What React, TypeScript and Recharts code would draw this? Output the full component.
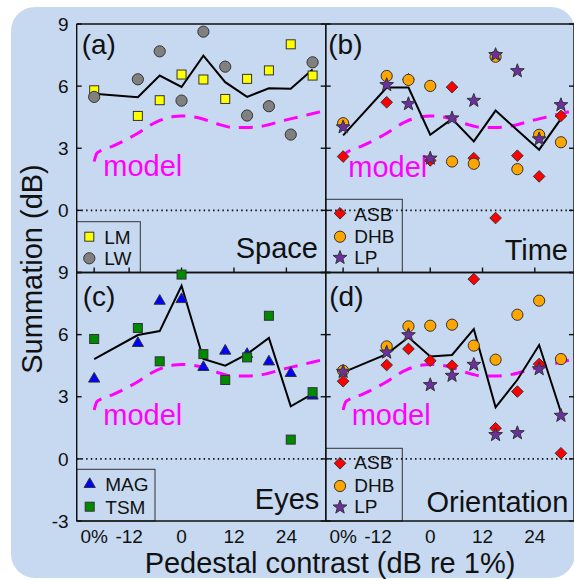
import React from 'react';
import { ComposedChart, XAxis, YAxis, Scatter, Line, ReferenceLine } from 'recharts';

// ---------- data ----------
const pedestal = [-20, -10, -5, 0, 5, 10, 15, 20, 25, 30];
const xTicks = [-20, -12, 0, 12, 24];
const yTicks = [-3, 0, 3, 6, 9];
const yLabelsTop = [0, 3, 6, 9];
const yLabelsBottom = [-3, 0, 3, 6, 9];

// (a) Space
const LM = [5.8, 4.56, 5.32, 6.56, 6.32, 5.38, 6.35, 6.76, 8.02, 6.51];
const LW = [5.48, 6.33, 7.68, 5.3, 8.63, 6.94, 4.58, 5.03, 3.66, 7.15];
const meanSpace = [5.63, 5.46, 6.51, 5.96, 7.47, 6.19, 5.48, 5.9, 5.87, 6.8];

// (b) Time
const ASB_time = [2.6, 5.22, 6.33, 2.41, 5.95, 2.52, -0.37, 2.64, 1.64, 4.56];
const DHB_time = [4.21, 6.49, 6.3, 6.01, 2.36, 2.25, 7.42, 1.99, 3.65, 3.29];
const LP_time = [4.02, 6.06, 5.14, 2.51, 4.45, 5.3, 7.51, 6.73, 3.44, 5.09];
const meanTime = [3.62, 5.93, 5.93, 3.65, 4.42, 3.33, 4.82, 3.87, 2.93, 4.42];

// (c) Eyes
const MAG = [3.91, 5.63, 7.67, 7.75, 4.47, 5.26, 5.1, 4.74, 4.18, 3.09];
const TSM = [5.79, 6.32, 4.71, 8.9, 5.06, 3.81, 4.9, 6.91, 0.93, 3.22];
const meanEyes = [4.82, 5.98, 6.17, 8.36, 4.82, 4.5, 5.06, 5.84, 2.54, 3.14];

// (d) Orientation
const ASB_ori = [3.75, 4.53, 5.31, 4.74, 4.5, 8.68, 1.48, 3.25, 4.58, 0.27];
const DHB_ori = [4.26, 5.43, 6.4, 6.43, 6.48, 5.47, 4.79, 6.96, 7.64, 4.82];
const LP_ori = [4.21, 5.14, 5.98, 3.57, 4.02, 4.55, 1.16, 1.25, 4.34, 2.09];
const meanOri = [4.18, 5.06, 5.87, 4.94, 5.02, 6.27, 2.49, 3.82, 5.5, 2.25];

// model curve (same in every panel)
const modelX = [-20, -19.4, -18.6, -15.6, -10.6, -5.6, -1.8, 0, 4.3, 8.1, 11.9, 14.9, 18.8, 23.4, 27.2, 33];
const modelY = [2.36, 2.75, 2.87, 3.12, 3.65, 4.29, 4.53, 4.56, 4.45, 4.18, 4.0, 4.0, 4.08, 4.34, 4.53, 4.82];

// ---------- helpers ----------
const W = 574;
const H = 581;
const FONT = '"Liberation Sans", Arial, Helvetica, sans-serif';
const MS = '#333';
const BG = '#c6d9f0';

const toPts = (ys: number[]) => pedestal.map((x, i) => ({ x, y: ys[i] }));
const modelPts = modelX.map((x, i) => ({ x, y: modelY[i] }));
const fmtX = (v: number) => (v === -20 ? '0%' : String(v));
const noLabel = () => <g />;

const starPath = (cx: number, cy: number, R: number, r: number) => {
  let d = '';
  for (let i = 0; i < 10; i++) {
    const a = -Math.PI / 2 + (i * Math.PI) / 5;
    const rad = i % 2 === 0 ? R : r;
    d += (i === 0 ? 'M' : 'L') + (cx + rad * Math.cos(a)).toFixed(2) + ',' + (cy + rad * Math.sin(a)).toFixed(2);
  }
  return d + 'Z';
};

type MarkerKind = 'square' | 'circle' | 'diamond' | 'triangle' | 'star';

const marker = (kind: MarkerKind, cx: number, cy: number, fill: string) => {
  switch (kind) {
    case 'square':
      return <rect x={cx - 4.5} y={cy - 4.5} width={9} height={9} fill={fill} stroke={MS} strokeWidth={1} />;
    case 'circle':
      return <circle cx={cx} cy={cy} r={5.6} fill={fill} stroke={MS} strokeWidth={1} />;
    case 'diamond':
      return (
        <path d={`M${cx},${cy - 5.8}L${cx + 5.8},${cy}L${cx},${cy + 5.8}L${cx - 5.8},${cy}Z`} fill={fill} stroke={MS} strokeWidth={1} />
      );
    case 'triangle':
      return (
        <path d={`M${cx},${cy - 5.5}L${cx + 5.6},${cy + 4.2}L${cx - 5.6},${cy + 4.2}Z`} fill={fill} stroke={MS} strokeWidth={1} />
      );
    case 'star':
      return <path d={starPath(cx, cy, 7.2, 3)} fill={fill} stroke={MS} strokeWidth={1} />;
  }
};

type SeriesDef = { name: string; values: number[]; kind: MarkerKind; fill: string };

const seriesSpace: SeriesDef[] = [
  { name: 'LM', values: LM, kind: 'square', fill: '#ffff00' },
  { name: 'LW', values: LW, kind: 'circle', fill: '#808080' },
];
const seriesTime: SeriesDef[] = [
  { name: 'ASB', values: ASB_time, kind: 'diamond', fill: '#ff0000' },
  { name: 'DHB', values: DHB_time, kind: 'circle', fill: '#ffa500' },
  { name: 'LP', values: LP_time, kind: 'star', fill: '#6b2fa0' },
];
const seriesEyes: SeriesDef[] = [
  { name: 'MAG', values: MAG, kind: 'triangle', fill: '#0000ff' },
  { name: 'TSM', values: TSM, kind: 'square', fill: '#008a00' },
];
const seriesOri: SeriesDef[] = [
  { name: 'ASB', values: ASB_ori, kind: 'diamond', fill: '#ff0000' },
  { name: 'DHB', values: DHB_ori, kind: 'circle', fill: '#ffa500' },
  { name: 'LP', values: LP_ori, kind: 'star', fill: '#6b2fa0' },
];

type Rect = { l: number; t: number; r: number; b: number };

const frameStroke = '#111';
const tickStyle = { fill: '#111', fontSize: 19, fontFamily: FONT };

function Panel({
  rect,
  series,
  mean,
  labelX,
  yLabels,
}: {
  rect: Rect;
  series: SeriesDef[];
  mean: number[];
  labelX: boolean;
  yLabels: number[] | null;
}) {
  const yW = 40;
  const xH = 30;
  const margin = {
    left: yLabels ? rect.l - yW : rect.l,
    right: W - rect.r,
    top: rect.t,
    bottom: labelX ? H - rect.b - xH : H - rect.b,
  };
  const xDom: [number, number] = [-24, 33];
  const yDom: [number, number] = [-3, 9];
  const frameX = {
    type: 'number' as const,
    domain: xDom,
    ticks: xTicks,
    interval: 0 as const,
    mirror: true,
    height: 1,
    tickSize: 5,
    tick: noLabel,
    stroke: frameStroke,
    strokeWidth: 1.4,
    axisLine: true,
    tickLine: true,
  };
  const frameY = {
    type: 'number' as const,
    domain: yDom,
    ticks: yTicks,
    interval: 0 as const,
    mirror: true,
    width: 1,
    tickSize: 5,
    tick: noLabel,
    stroke: frameStroke,
    strokeWidth: 1.4,
    axisLine: true,
    tickLine: true,
  };
  return (
    <div style={{ position: 'absolute', left: 0, top: 0, width: W, height: H }}>
      <ComposedChart width={W} height={H} margin={margin}>
        {labelX ? (
          <XAxis
            xAxisId="b"
            dataKey="x"
            type="number"
            domain={xDom}
            ticks={xTicks}
            interval={0}
            orientation="bottom"
            height={xH}
            tickLine={false}
            axisLine={false}
            tickSize={0}
            tickMargin={9}
            tickFormatter={fmtX}
            tick={tickStyle}
            stroke={frameStroke}
          />
        ) : (
          <XAxis xAxisId="b" dataKey="x" orientation="bottom" {...frameX} />
        )}
        {labelX && <XAxis xAxisId="bt" orientation="bottom" allowDataOverflow {...frameX} />}
        <XAxis xAxisId="t" orientation="top" allowDataOverflow {...frameX} />
        {yLabels ? (
          <YAxis
            yAxisId="l"
            dataKey="y"
            type="number"
            domain={yDom}
            ticks={yLabels}
            interval={0}
            orientation="left"
            width={yW}
            tickLine={false}
            axisLine={false}
            tickSize={0}
            tickMargin={8}
            tick={tickStyle}
            stroke={frameStroke}
          />
        ) : (
          <YAxis yAxisId="l" dataKey="y" orientation="left" {...frameY} />
        )}
        {yLabels && <YAxis yAxisId="lt" orientation="left" allowDataOverflow {...frameY} />}
        <YAxis yAxisId="r" orientation="right" allowDataOverflow {...frameY} />
        <ReferenceLine xAxisId="b" yAxisId="l" y={0} stroke="#111" strokeWidth={1.6} strokeDasharray="1.5 3.2" />
        <Line
          xAxisId="b"
          yAxisId="l"
          data={modelPts}
          dataKey="y"
          type="monotone"
          stroke="#ff00ff"
          strokeWidth={3}
          strokeDasharray="14 9"
          dot={false}
          activeDot={false}
          isAnimationActive={false}
        />
        <Line
          xAxisId="b"
          yAxisId="l"
          data={toPts(mean)}
          dataKey="y"
          type="linear"
          stroke="#000"
          strokeWidth={2}
          dot={false}
          activeDot={false}
          isAnimationActive={false}
        />
        {series.map((s) => (
          <Scatter
            key={s.name}
            name={s.name}
            xAxisId="b"
            yAxisId="l"
            data={toPts(s.values)}
            isAnimationActive={false}
            shape={(p: any) => marker(s.kind, p.cx, p.cy, s.fill)}
          />
        ))}
      </ComposedChart>
    </div>
  );
}

type LegendDef = {
  box: Rect;
  markerX: number;
  textX: number;
  rows: { cy: number; base: number }[];
  series: SeriesDef[];
};

const legends: LegendDef[] = [
  { box: { l: 76.7, t: 221.7, r: 140.3, b: 272.5 }, markerX: 89.3, textX: 104.3, rows: [{ cy: 236.7, base: 244.3 }, { cy: 258.3, base: 265 }], series: seriesSpace },
  { box: { l: 325.7, t: 199.3, r: 402.3, b: 272.5 }, markerX: 340, textX: 354.3, rows: [{ cy: 213.3, base: 220.7 }, { cy: 236.7, base: 242.7 }, { cy: 257.7, base: 264.3 }], series: seriesTime },
  { box: { l: 76.7, t: 469.3, r: 155, b: 521 }, markerX: 89.7, textX: 105.3, rows: [{ cy: 483.3, base: 490.7 }, { cy: 506.7, base: 514 }], series: seriesEyes },
  { box: { l: 325.7, t: 448.3, r: 402.3, b: 521 }, markerX: 340, textX: 354.3, rows: [{ cy: 463.3, base: 469 }, { cy: 486, base: 491.7 }, { cy: 507.3, base: 512.7 }], series: seriesOri },
];

const panelTitles = [
  { letter: '(a)', lx: 81.7, ly: 54, name: 'Space', nx: 318, ny: 258.3, mx: 103.3, my: 175.7 },
  { letter: '(b)', lx: 328.3, ly: 54, name: 'Time', nx: 568, ny: 260, mx: 348.3, my: 176.7 },
  { letter: '(c)', lx: 82.7, ly: 305.5, name: 'Eyes', nx: 319.3, ny: 509.3, mx: 103.3, my: 425 },
  { letter: '(d)', lx: 329.3, ly: 305.5, name: 'Orientation', nx: 568.3, ny: 511.7, mx: 351.7, my: 425 },
];

export default function App() {
  return (
    <div style={{ position: 'absolute', left: 0, top: 0, width: W, height: H, overflow: 'hidden', background: '#fff' }}>
      <div
        style={{
          position: 'absolute',
          left: 11,
          top: 7,
          width: 564,
          height: 571,
          borderRadius: 24,
          background: BG,
        }}
      />
      <svg width={W} height={H} style={{ position: 'absolute', left: 0, top: 0 }} fontFamily={FONT}>
        <text transform="translate(42,269) rotate(-90)" textAnchor="middle" fontSize={29} fill="#111">
          Summation (dB)
        </text>
        <text x={330} y={572.7} textAnchor="middle" fontSize={29} fill="#111">
          Pedestal contrast (dB re 1%)
        </text>
        {panelTitles.map((p) => (
          <g key={p.letter}>
            <text x={p.lx} y={p.ly} fontSize={28} fill="#111">
              {p.letter}
            </text>
            <text x={p.nx} y={p.ny} fontSize={29} textAnchor="end" fill="#111">
              {p.name}
            </text>
            <text x={p.mx} y={p.my} fontSize={29} fill="#ff00ff">
              model
            </text>
          </g>
        ))}
        {legends.map((lg, i) => (
          <g key={i}>
            <rect x={lg.box.l} y={lg.box.t} width={lg.box.r - lg.box.l} height={lg.box.b - lg.box.t} fill="none" stroke="#333" strokeWidth={1} />
            {lg.series.map((s, j) => (
              <g key={s.name}>
                {marker(s.kind, lg.markerX, lg.rows[j].cy, s.fill)}
                <text x={lg.textX} y={lg.rows[j].base} fontSize={19} fill="#111">
                  {s.name}
                </text>
              </g>
            ))}
          </g>
        ))}
      </svg>
      <Panel rect={{ l: 76.7, t: 24, r: 325.7, b: 272.5 }} series={seriesSpace} mean={meanSpace} labelX={false} yLabels={yLabelsTop} />
      <Panel rect={{ l: 325.7, t: 24, r: 574, b: 272.5 }} series={seriesTime} mean={meanTime} labelX={false} yLabels={null} />
      <Panel rect={{ l: 76.7, t: 272.5, r: 325.7, b: 521 }} series={seriesEyes} mean={meanEyes} labelX={true} yLabels={yLabelsBottom} />
      <Panel rect={{ l: 325.7, t: 272.5, r: 574, b: 521 }} series={seriesOri} mean={meanOri} labelX={true} yLabels={null} />
    </div>
  );
}
